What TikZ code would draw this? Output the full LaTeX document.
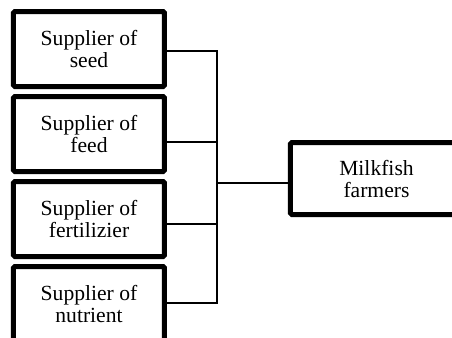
\documentclass[tikz,border=0pt]{standalone}
\usepackage{fontspec}
\setmainfont{Liberation Serif}
\usetikzlibrary{positioning}

\begin{document}
\begin{tikzpicture}[x=0.5pt,y=-0.5pt,on grid,node distance=42.5pt,
supplier/.style={draw,line width=2.5pt,rounded corners=0.75pt,
minimum width=75.5pt,minimum height=37.5pt,align=center,
font=\fontsize{10.8}{11}\selectfont},
farmer/.style={supplier,minimum width=86pt,minimum height=36pt},
link/.style={line width=0.75pt}]
\useasboundingbox (0,0) rectangle (452,338);
\clip (0,0) rectangle (452,338);
\node[supplier] (seed) at (89,49) {Supplier of\\seed};
\node[supplier] (feed) [below=of seed] {Supplier of\\feed};
\node[supplier] (fert) [below=of feed] {Supplier of\\fertilizier};
\node[supplier] (nutr) [below=of fert] {Supplier of\\nutrient};
\node[farmer] (milk) at (376.5,178.5) {Milkfish\\farmers};
% bus between suppliers and farmers
\coordinate (bustop) at (217,51);
\coordinate (busbot) at (217,303);
\coordinate (busmid) at (217,183);
\draw[link] ([yshift=-1pt]seed.east) -- (bustop) -- (busbot) -- ([yshift=0.5pt]nutr.east);
\draw[link] ([yshift=-4pt]feed.east) -- ([yshift=-4pt]feed.east -| bustop);
\draw[link] ([yshift=-2.5pt]fert.east) -- ([yshift=-2.5pt]fert.east -| bustop);
\draw[link] (busmid) -- ([yshift=-2.25pt]milk.west);
\end{tikzpicture}
\end{document}
